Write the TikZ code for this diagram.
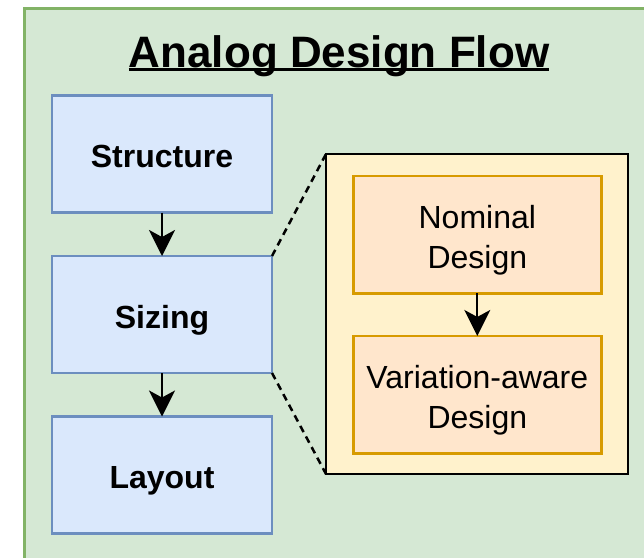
\documentclass[tikz,border=0pt]{standalone}
\usepackage{fontspec}
\setmainfont{Liberation Sans}
\usetikzlibrary{arrows.meta}

\definecolor{panelfill}{HTML}{D5E8D4}
\definecolor{panelline}{HTML}{82B366}
\definecolor{stagefill}{HTML}{DAE8FC}
\definecolor{stageline}{HTML}{6C8EBF}
\definecolor{zoomfill}{HTML}{FFF2CC}
\definecolor{subfill}{HTML}{FFE6CC}
\definecolor{subline}{HTML}{D79B00}

% two centred lines, baseline of the box on the last line
\newcommand{\twoline}[2]{\vbox{\baselineskip=40pt\lineskiplimit=-100pt\halign{\hfil##\hfil\cr#1\cr#2\cr}}}

\begin{document}
\begin{tikzpicture}[x=1pt,y=-1pt,
  stagebox/.style={draw=stageline, fill=stagefill, line width=2.5pt,
    minimum width=220pt, minimum height=117pt, inner sep=0pt, outer sep=0pt,
    font=\fontsize{32}{40}\selectfont\bfseries, text height=30pt, text depth=3pt},
  subbox/.style={draw=subline, fill=subfill, line width=2.5pt,
    minimum width=248pt, minimum height=117.5pt, inner sep=0pt, outer sep=0pt,
    font=\fontsize{32}{40}\selectfont, text height=70pt, text depth=3pt},
  zoombox/.style={draw=black, fill=zoomfill, line width=2.5pt,
    minimum width=302pt, minimum height=320pt, inner sep=0pt, outer sep=0pt},
  flowarrow/.style={line width=2.2pt, -{Stealth[length=26pt,width=26pt,inset=7pt]}},
  zoomline/.style={line width=2.5pt, dash pattern=on 7pt off 5pt}
]
\useasboundingbox (0,0) rectangle (644,557);
\clip (0,0) rectangle (644,557);
\fill[white] (0,0) rectangle (644,557);

% green panel, running past the right and bottom edges
\draw[fill=panelfill, draw=panelline, line width=2.5pt] (24.3,8.3) rectangle (700,620);

% title
\node[anchor=base, inner sep=0pt, font=\fontsize{44}{50}\selectfont\bfseries] (title) at (339,67) {Analog Design Flow};
\draw[line width=2.7pt] ([yshift=-2.7pt]title.base west) -- ([yshift=-2.7pt]title.base east);

% design stages
\node[stagebox] (structure) at (162,154) {Structure};
\node[stagebox] (sizing) at (162,314.5) {Sizing};
\node[stagebox] (layout) at (162,475) {Layout};

% zoom-in on the sizing stage
\draw[zoomline] (sizing.north east) -- (326,154) coordinate (zoomtl);
\draw[zoomline] (sizing.south east) -- (326,474) coordinate (zoombl);
\node[zoombox] (zoom) at (477,314) {};

\node[subbox] (nominal) at (477.3,234.5) {\twoline{Nominal}{Design}};
\node[subbox] (variation) at (477.3,394.7) {\twoline{Variation-aware}{Design}};

% connectors
\draw[flowarrow] (structure.south) -- (sizing.north);
\draw[flowarrow] (sizing.south) -- (layout.north);
\draw[flowarrow] (nominal.south) -- (variation.north);
\end{tikzpicture}
\end{document}
